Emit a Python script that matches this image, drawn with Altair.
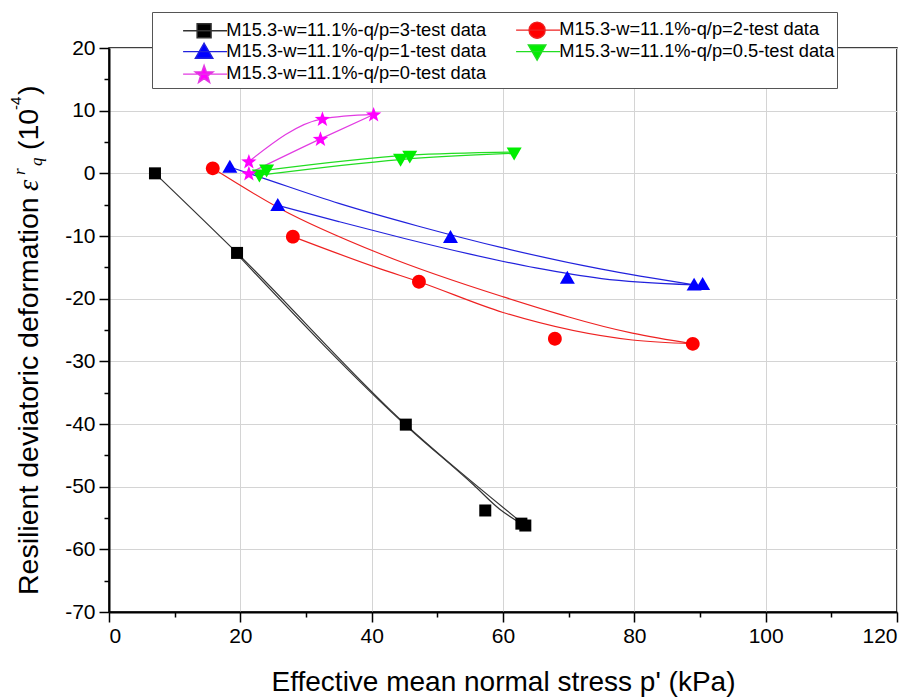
import math
import altair as alt
import pandas as pd

# ---------------- data ----------------
series = [
    "M15.3-w=11.1%-q/p=3-test data",
    "M15.3-w=11.1%-q/p=2-test data",
    "M15.3-w=11.1%-q/p=1-test data",
    "M15.3-w=11.1%-q/p=0.5-test data",
    "M15.3-w=11.1%-q/p=0-test data",
]
marker_colors = ["#000000", "#ff0000", "#0000ff", "#00ee00", "#ff00ff"]
line_colors = ["#333333", "#ee2222", "#2222dd", "#22dd22", "#e23be2"]
# legend shows entries column by column
legend_order = [0, 2, 4, 1, 3]

# markers (p', eps)
pts_x = {
    0: [7.0, 19.5, 45.2, 57.3, 62.8, 63.4],
    1: [15.8, 28.0, 47.2, 67.9, 88.9],
    2: [18.4, 25.7, 52.0, 69.8, 89.1, 90.4],
    3: [22.9, 24.0, 44.4, 45.8, 61.7],
    4: [21.3, 21.3, 32.2, 32.5, 40.3],
}
pts_y = {
    0: [0.0, -12.7, -40.1, -53.8, -55.9, -56.2],
    1: [0.8, -10.1, -17.3, -26.4, -27.2],
    2: [1.0, -5.1, -10.2, -16.7, -17.8, -17.7],
    3: [-0.3, 0.5, 2.2, 2.7, 3.2],
    4: [1.9, 0.0, 5.5, 8.7, 9.4],
}

# curve paths: loading and unloading branch for each test
paths = {
    0: [
        ([7.0, 19.5, 45.2, 63.4], [0.0, -12.7, -40.1, -56.2]),
        ([19.5, 45.8, 55.5, 59.5, 62.8], [-12.9, -40.8, -49.7, -53.6, -55.9]),
    ],
    1: [
        ([15.8, 26.0, 41.2, 60.0, 79.7, 88.9], [0.8, -5.6, -12.8, -19.7, -25.5, -27.2]),
        ([28.0, 41.2, 47.2, 60.0, 79.7, 88.9], [-10.1, -15.2, -17.3, -22.2, -26.6, -27.2]),
    ],
    2: [
        ([18.4, 23.0, 35.0, 47.0, 60.0, 75.0, 89.1], [1.0, -0.6, -4.8, -8.4, -11.9, -15.3, -17.8]),
        ([25.7, 35.0, 45.0, 55.0, 65.0, 75.0, 89.1], [-5.1, -7.7, -10.4, -12.9, -15.1, -16.8, -17.8]),
    ],
    3: [
        ([24.0, 45.8, 61.7], [0.5, 2.9, 3.4]),
        ([22.9, 44.4, 61.7], [-0.3, 2.2, 3.2]),
    ],
    4: [
        ([21.3, 32.5, 40.3], [1.9, 8.7, 9.4]),
        ([21.3, 32.2, 40.3], [0.0, 5.5, 9.4]),
    ],
}

x_ticks = list(range(0, 121, 10))
y_ticks = list(range(-70, 21, 5))
x_title = "Effective mean normal stress p' (kPa)"
y_title_main = "Resilient deviatoric deformation"
y_title_eps = "ε"
y_title_sup = "r"
y_title_sub = "q"
y_title_unit = "(10"
y_title_exp = "-4"
y_title_close = ")"

# ---------------- tables ----------------
pt_rows = []
for i, s in enumerate(series):
    for x, y in zip(pts_x[i], pts_y[i]):
        pt_rows.append({"series": s, "p": x, "e": y})
pts_df = pd.DataFrame(pt_rows)

ln_rows = []
for i, s in enumerate(series):
    for k, (xs, ys) in enumerate(paths[i]):
        for j, (x, y) in enumerate(zip(xs, ys)):
            ln_rows.append({"series": s, "path": f"{i}-{k}", "ord": j, "p": x, "e": y})
ln_df = pd.DataFrame(ln_rows)

# ---------------- marker shapes ----------------
def square(cx=0.0):
    return f"M{cx-1:.3f},-1H{cx+1:.3f}V1H{cx-1:.3f}Z"

def circle(cx=0.0, r=1.15):
    return (f"M{cx-r:.3f},0A{r},{r} 0 1,0 {cx+r:.3f},0"
            f"A{r},{r} 0 1,0 {cx-r:.3f},0Z")

def tri_up(cx=0.0):
    return f"M{cx:.3f},-1.2L{cx+1.25:.3f},0.95H{cx-1.25:.3f}Z"

def tri_down(cx=0.0):
    return f"M{cx:.3f},1.2L{cx+1.25:.3f},-0.95H{cx-1.25:.3f}Z"

def star(cx=0.0, R=1.35, r=0.55):
    pts = []
    for k in range(10):
        a = -math.pi / 2 + k * math.pi / 5
        rad = R if k % 2 == 0 else r
        pts.append((cx + rad * math.cos(a), 0.1 + rad * math.sin(a)))
    return "M" + "L".join(f"{x:.3f},{y:.3f}" for x, y in pts) + "Z"

shape_funcs = [square, circle, tri_up, tri_down, star]
marker_shapes = [f() for f in shape_funcs]

LEG_C = 5.85
LEG_L0, LEG_L1 = 2.85, 9.14
legend_shapes = [f"M{LEG_L0},0H{LEG_L1}" + f(LEG_C) for f in shape_funcs]

leg_domain = [series[i] for i in legend_order]
leg_fill = [marker_colors[i] for i in legend_order]
leg_stroke = [line_colors[i] for i in legend_order]
leg_shapes = [legend_shapes[i] for i in legend_order]

FONT = "Liberation Sans"

x_scale = alt.Scale(domain=[0, 120], nice=False, zero=False)
y_scale = alt.Scale(domain=[-70, 20], nice=False, zero=False)

x_axis = alt.Axis(
    values=x_ticks,
    labelExpr="datum.value % 20 === 0 ? '' + datum.value : ''",
    tickSize={"condition": {"test": "datum.value % 20 !== 0", "value": 5}, "value": 10},
    gridOpacity={"condition": {"test": "datum.value % 20 !== 0", "value": 0}, "value": 1},
    title=x_title,
    titleFont=FONT, titleFontSize=28, titleFontWeight="normal", titleColor="black",
    titleBaseline="alphabetic", titleY=78,
    labelFont=FONT, labelFontSize=21, labelColor="black", labelPadding=3,
    domainColor="black", domainWidth=2, tickColor="black", tickWidth=1.5,
    gridColor="#d4d4d4", gridWidth=1,
)
y_axis = alt.Axis(
    values=y_ticks,
    labelExpr="datum.value % 10 === 0 ? '' + datum.value : ''",
    tickSize={"condition": {"test": "datum.value % 10 !== 0", "value": 5}, "value": 10},
    gridOpacity={"condition": {"test": "datum.value % 10 !== 0", "value": 0}, "value": 1},
    title=None,
    labelFont=FONT, labelFontSize=21, labelColor="black", labelPadding=4,
    domainColor="black", domainWidth=2, tickColor="black", tickWidth=1.5,
    gridColor="#d4d4d4", gridWidth=1,
)

X = alt.X("p:Q", scale=x_scale, axis=x_axis)
Y = alt.Y("e:Q", scale=y_scale, axis=y_axis)

lines = alt.Chart(ln_df).mark_line(interpolate="monotone", strokeWidth=1.2).encode(
    x=X, y=Y,
    color=alt.Color("series:N", scale=alt.Scale(domain=series, range=line_colors), legend=None),
    detail="path:N",
    order="ord:Q",
)

points = alt.Chart(pts_df).mark_point(filled=True, size=144, opacity=1).encode(
    x=X, y=Y,
    color=alt.Color("series:N", scale=alt.Scale(domain=series, range=marker_colors), legend=None),
    shape=alt.Shape("series:N", scale=alt.Scale(domain=series, range=marker_shapes), legend=None),
)

leg = dict(
    title=" ", titleFontSize=6, titlePadding=1,
    orient="none", legendX=43, legendY=-36, columns=2,
    labelFont=FONT, labelFontSize=18.3, labelColor="black", labelOffset=54,
    columnPadding=0, rowPadding=-1.5, padding=2,
    strokeColor="#555555", fillColor="white",
    symbolSize=196, symbolStrokeWidth=1.4, symbolOpacity=1,
    labelLimit=400,
)
legend_layer = alt.Chart(pts_df).mark_point(filled=True, size=196, opacity=0).encode(
    x=X, y=Y,
    color=alt.Color("series:N", scale=alt.Scale(domain=leg_domain, range=leg_fill), legend=alt.Legend(**leg)),
    stroke=alt.Stroke("series:N", scale=alt.Scale(domain=leg_domain, range=leg_stroke), legend=alt.Legend(**leg)),
    shape=alt.Shape("series:N", scale=alt.Scale(domain=leg_domain, range=leg_shapes), legend=alt.Legend(**leg)),
)

def vtext(txt, x, y, size, font=FONT, style="normal"):
    return alt.Chart(pd.DataFrame({"t": [txt]})).mark_text(
        angle=270, align="left", baseline="alphabetic", font=font,
        fontSize=size, fontStyle=style, color="black",
    ).encode(text="t:N", x=alt.value(x), y=alt.value(y))

ytitle = [
    vtext(y_title_main, -71, 547, 28.5),
    vtext(y_title_eps, -71, 143, 28.5, font="Liberation Serif", style="italic"),
    vtext(y_title_sup, -84, 127, 17, font="Liberation Serif", style="italic"),
    vtext(y_title_sub, -67, 118, 17, font="Liberation Serif", style="italic"),
    vtext(y_title_unit, -71, 102, 28.5),
    vtext(y_title_exp, -88, 62, 15),
    vtext(y_title_close, -71, 47, 28.5),
]

chart = alt.layer(lines, points, legend_layer, *ytitle).resolve_scale(
    color="independent", shape="independent", stroke="independent"
).properties(
    width=788, height=564,
    padding={"left": 101, "top": 40, "right": 15, "bottom": 86},
    autosize=alt.AutoSizeParams(type="none"),
    background="white",
).configure_view(stroke="black", strokeWidth=1.5)

chart.save("out.html", embed_options={"renderer": "svg", "actions": False})
